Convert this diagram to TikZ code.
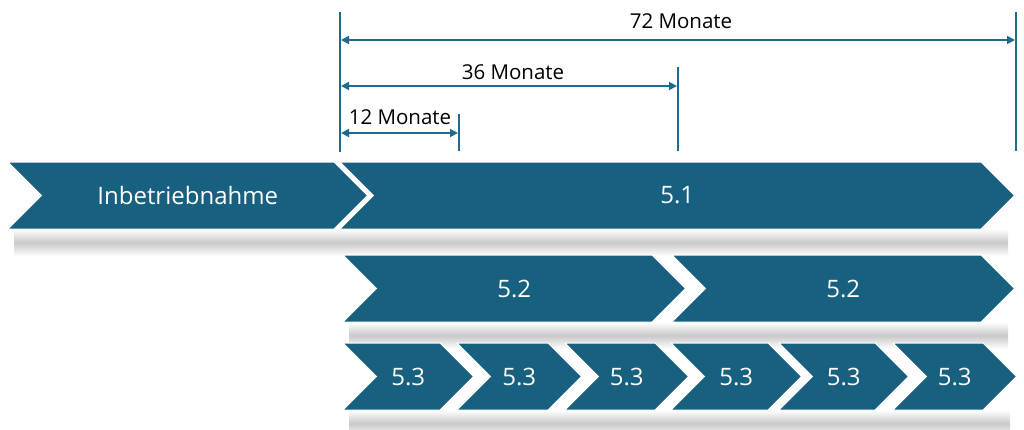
\documentclass[tikz,border=0pt]{standalone}
\usepackage{fontspec}
\setmainfont{Open Sans}
\usetikzlibrary{arrows.meta}
\definecolor{chev}{HTML}{17607F}
\definecolor{dimc}{HTML}{1F6A8C}
\newcommand\mychevron[6]{%
  \pgfmathsetmacro\cym{(#4+#5)/2}%
  \pgfmathsetmacro\cdd{(#5-#4)/2}%
  \path[chevshape] (#2,#4) -- (#3,#4) -- ({#3+\cdd},\cym) -- (#3,#5) -- (#2,#5) -- ({#2+\cdd},\cym) -- cycle;
  \node[chevlabel] (#1) at ({(#2+#3+\cdd)/2},\cym) {#6};%
}
\begin{document}
\begin{tikzpicture}[x=1pt,y=-1pt,
  chevshadow/.style={top color=white, bottom color=white, middle color=black!21, draw=none},
  chevshape/.style={fill=chev, draw=white, line width=1pt},
  chevlabel/.style={text=white, font=\fontsize{24}{28}\selectfont, inner sep=0pt},
  dimline/.style={draw=dimc, line width=2pt},
  dimarrow/.style={draw=dimc, line width=1.8pt, {Triangle[length=8pt,width=8pt]}-{Triangle[length=8pt,width=8pt]}},
  dimlabel/.style={text=black, font=\fontsize{20.5}{24}\selectfont, inner sep=0pt}]
\useasboundingbox (0,0) rectangle (1024,429);
% shadows (one band per row)
\shade[chevshadow] (14,229) rectangle (1008,256);
\shade[chevshadow] (349,322) rectangle (1008,349);
\shade[chevshadow] (349,410) rectangle (1010,437);
% row 1
\mychevron{inb}{8}{334}{162}{229}{Inbetriebnahme}
\mychevron{c51}{340}{981}{162}{229}{5.1}
% row 2
\mychevron{c52a}{343}{652}{255}{322}{5.2}
\mychevron{c52b}{672}{981}{255}{322}{5.2}
% row 3
\mychevron{c53a}{343}{440}{343}{410}{5.3}
\mychevron{c53b}{457}{548}{343}{410}{5.3}
\mychevron{c53c}{565}{655}{343}{410}{5.3}
\mychevron{c53d}{671}{768}{343}{410}{5.3}
\mychevron{c53e}{779}{875}{343}{410}{5.3}
\mychevron{c53f}{893}{983}{343}{410}{5.3}
% dimension ticks
\coordinate (t0a) at (340,12);  \coordinate (t0b) at (340,152);
\coordinate (t12a) at (459,114); \coordinate (t12b) at (459,151);
\coordinate (t36a) at (678,67);  \coordinate (t36b) at (678,151);
\coordinate (t72a) at (1016,12); \coordinate (t72b) at (1016,151);
\draw[dimline] (t0a) -- (t0b);
\draw[dimline] (t12a) -- (t12b);
\draw[dimline] (t36a) -- (t36b);
\draw[dimline] (t72a) -- (t72b);
% arrows
\coordinate (a72l) at (341,40);  \coordinate (a72r) at (1015,40);
\coordinate (a36l) at (341,86);  \coordinate (a36r) at (677,86);
\coordinate (a12l) at (341,133); \coordinate (a12r) at (458,133);
\draw[dimarrow] (a72l) -- (a72r);
\draw[dimarrow] (a36l) -- (a36r);
\draw[dimarrow] (a12l) -- (a12r);
\node[dimlabel] (l72) at (681,21) {72 Monate};
\node[dimlabel] (l36) at (513,72) {36 Monate};
\node[dimlabel] (l12) at (400,117) {12 Monate};
\end{tikzpicture}
\end{document}
